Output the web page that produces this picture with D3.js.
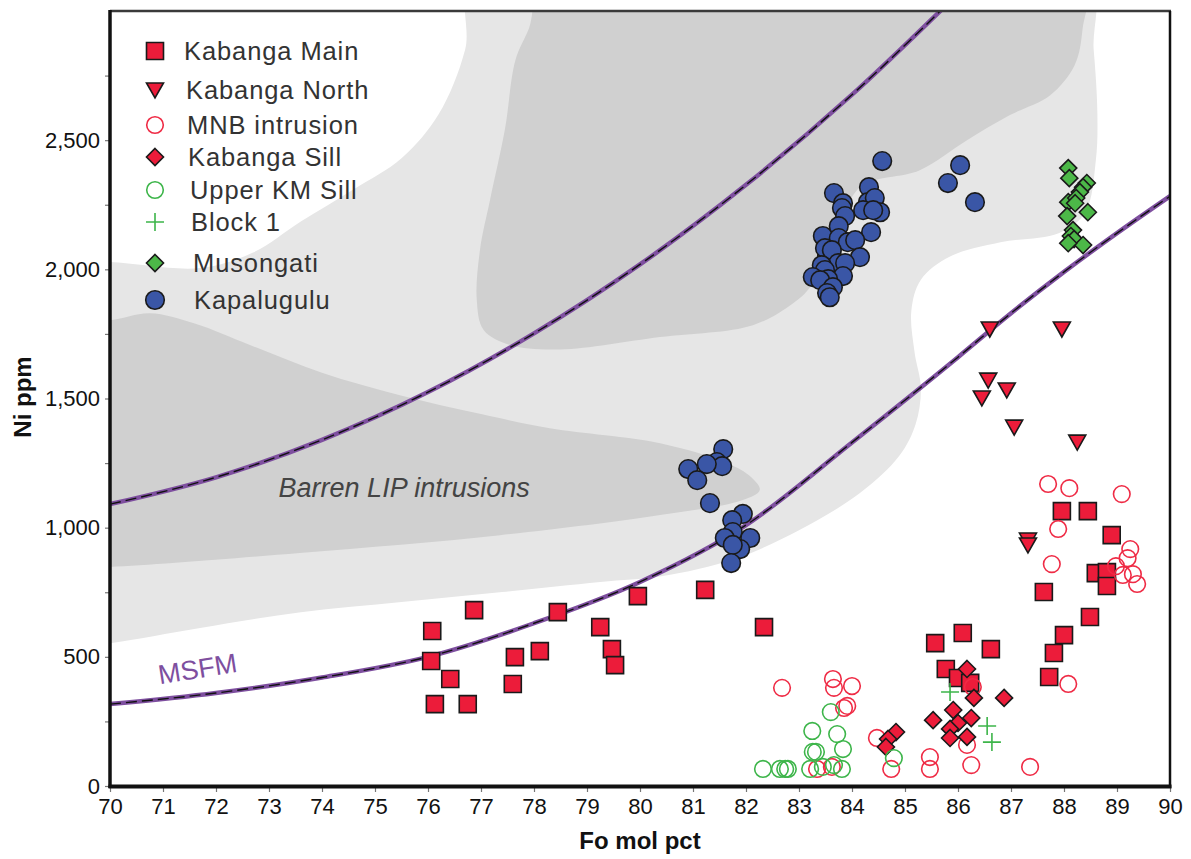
<!DOCTYPE html>
<html>
<head>
<meta charset="utf-8">
<script src="https://cdn.jsdelivr.net/npm/d3@7"></script>
<style>
  html, body { margin: 0; padding: 0; background: #ffffff; }
  svg { display: block; font-family: "Liberation Sans", Arial, Helvetica, sans-serif; }
</style>
</head>
<body>
<svg id="chart" width="1191" height="859"></svg>
<script>
// ---- Axis settings -------------------------------------------------------
const xTickValues = [70,71,72,73,74,75,76,77,78,79,80,81,82,83,84,85,86,87,88,89,90];
const yTickValues = [0,250,500,750,1000,1250,1500,1750,2000,2250,2500,2750];
const yTickLabels = ["0","","500","","1,000","","1,500","","2,000","","2,500",""];

// ---- Sample series: [Fo mol pct, Ni ppm] ---------------------------------
const kabangaMain = [
  [76.08,600],[76.06,484],[76.13,317],[76.42,414],[76.87,681],[76.75,317],[77.64,499],[77.60,395],
  [78.11,522],[78.45,673],[79.25,615],[79.47,530],[79.53,468],[79.96,735],[81.23,759],[82.34,615],
  [85.57,553],[86.09,592],[85.77,453],[86.00,418],[86.23,399],[86.62,530],
  [87.96,1064],[88.45,1064],[88.90,971],[88.60,824],[88.81,828],[88.81,774],[87.62,751],[88.49,654],
  [88.00,584],[87.81,515],[87.72,422]
];
const kabangaNorth = [
  [86.60,1769],[87.96,1769],[86.57,1571],[86.92,1533],[86.45,1502],[87.06,1389],[88.25,1331],
  [87.32,952],[87.32,933]
];
const mnbIntrusion = [
  [87.70,1169],[88.10,1153],[89.09,1130],[87.89,995],[87.77,859],[89.25,917],[89.20,882],[88.98,851],
  [89.11,817],[89.30,820],[89.38,782],[88.08,395],
  [82.68,380],[83.64,414],[83.66,380],[84.00,387],[83.91,310],[83.85,302],[84.47,186],[84.74,66],
  [85.47,112],[85.47,66],[86.17,159],[86.25,81],[87.36,74],[86.28,383],[83.34,66],[83.62,74]
];
const kabangaSill = [
  [86.17,453],[86.30,341],[86.87,341],[85.91,294],[86.25,263],[85.53,255],[86.00,244],[85.85,221],
  [86.17,190],[85.85,186],[84.83,209],[84.68,182],[84.64,151]
];
const upperKMSill = [
  [82.32,66],[82.64,66],[82.74,66],[82.79,66],[83.21,66],[83.45,74],[83.25,213],[83.26,132],
  [83.32,132],[83.60,286],[83.72,201],[83.83,143],[83.66,81],[83.81,66],[84.79,108]
];
const block1 = [[85.85,364],[86.55,232],[86.64,170]];
const musongati = [
  [88.08,2392],[88.10,2353],[88.43,2334],[88.36,2318],[88.30,2299],[88.08,2260],[88.23,2276],
  [88.21,2256],[88.45,2221],[88.06,2206],[88.17,2152],[88.13,2129],[88.19,2117],[88.36,2094],[88.08,2101]
];
const kapalugulu = [
  [84.57,2419],[83.66,2295],[84.32,2318],[83.83,2256],[83.81,2237],[83.87,2206],[84.30,2260],[84.43,2276],
  [84.21,2229],[84.53,2221],[84.40,2229],[83.75,2167],[84.36,2144],[83.45,2129],[83.75,2121],[83.92,2105],
  [84.06,2113],[84.15,2047],[83.53,2055],[83.49,2082],[83.62,2074],[83.74,2024],[83.87,2024],[83.43,2016],
  [83.49,1997],[83.26,1970],[83.83,1974],[83.55,1962],[83.40,1958],[83.64,1931],[83.53,1908],[83.58,1892],
  [81.57,1304],[81.45,1254],[81.55,1238],[81.26,1246],[80.91,1227],[81.08,1184],[81.32,1095],[81.94,1053],
  [81.74,1029],[81.75,983],[81.60,960],[82.08,960],[81.89,917],[81.75,933],[81.72,863],
  [86.04,2403],[85.81,2334],[86.32,2260]
];

// ---- MSFM model curves ---------------------------------------------------
const msfmLower = [
  [70,317],[72,360],[74,420],[76,500],[78,630],[80,790],[82,1010],[84,1330],[86,1660],[87,1830],
  [88,1990],[89,2140],[90,2283]
];
const msfmUpper = [
  [70,1091],[72,1195],[74,1340],[76,1525],[78,1752],[80,2019],[82,2327],[84,2676],[86,3067]
];

// ---- Shaded fields -------------------------------------------------------
const outerField = [
  [69,2030],[70,2028],[71.7,2005],[72.7,2065],[73.6,2185],[74.6,2310],[75.5,2430],[76.2,2600],[76.7,2850],[76.9,3150],
  [88.4,3150],[88.56,2850],[88.63,2600],[88.6,2420],[88.4,2220],[87.9,2140],[86.8,2105],[85.85,2050],
  [85.3,1960],[85.12,1840],[85.18,1680],[85.3,1540],[85.2,1400],[84.9,1280],[84.15,1134],[83.0,990],
  [81.8,880],[80.4,812],[79.25,790],[77.4,751],[75.5,712],[73.6,673],[71.7,612],[70,553],[69,530]
];
const upperField = [
  [78.3,3150],[77.9,2930],[77.65,2810],[77.45,2540],[77.17,2268],[76.98,2074],[76.92,1881],[77.05,1765],
  [77.55,1707],[78.5,1690],[80.38,1738],[82.13,1784],[82.89,1869],[83.21,1931],[83.68,2113],[84.15,2318],
  [85.28,2384],[86.17,2500],[86.98,2597],[87.74,2674],[88.2,2790],[88.35,2930],[88.35,3150]
];
const barrenField = [
  [69,1800],[70,1803],[70.75,1830],[71.6,1790],[72.64,1707],[74,1600],[75.47,1513],[77,1440],[78.3,1385],
  [80.38,1327],[81.64,1250],[82.1,1195],[82.26,1146],[81.94,1107],[80.38,1049],[77.36,971],[73.58,902],
  [70,848],[69,845]
];

(function drawChart() {
  // ---- Layout ------------------------------------------------------------
  const pLeft = 110, pRight = 1170, pTop = 11, pBottom = 786;
  const svg = d3.select("#chart");
  const x = d3.scaleLinear().domain([70, 90]).range([pLeft, pRight]);
  const y = d3.scaleLinear().domain([0, 3000]).range([pBottom, pTop]);

  svg.append("defs").append("clipPath").attr("id", "plotClip")
    .append("rect").attr("x", pLeft).attr("y", pTop).attr("width", pRight - pLeft).attr("height", pBottom - pTop);

  const plot = svg.append("g").attr("clip-path", "url(#plotClip)");

  const areaLine = d3.line().x(d => x(d[0])).y(d => y(d[1])).curve(d3.curveCatmullRomClosed.alpha(0.5));
  plot.append("path").attr("d", areaLine(outerField)).attr("fill", "#e6e6e6");
  plot.append("path").attr("d", areaLine(upperField)).attr("fill", "#d0d0d0");
  plot.append("path").attr("d", areaLine(barrenField)).attr("fill", "#d0d0d0");

  plot.append("text")
    .attr("x", x(75.55)).attr("y", y(1120))
    .attr("text-anchor", "middle")
    .attr("font-size", 27).attr("font-style", "italic").attr("fill", "#444")
    .text("Barren LIP intrusions");

  // model curves: purple band with black dashes on top
  const curveLine = d3.line().x(d => x(d[0])).y(d => y(d[1])).curve(d3.curveMonotoneX);
  [msfmLower, msfmUpper].forEach(c => {
    plot.append("path").attr("d", curveLine(c)).attr("fill", "none")
      .attr("stroke", "#7e4f9f").attr("stroke-width", 4.5);
    plot.append("path").attr("d", curveLine(c)).attr("fill", "none")
      .attr("stroke", "#111").attr("stroke-width", 1.4).attr("stroke-dasharray", "11 5");
  });

  plot.append("text")
    .attr("transform", `translate(${x(71.68)},${y(418)}) rotate(-9)`)
    .attr("text-anchor", "middle")
    .attr("font-size", 27).attr("fill", "#7e4f9f")
    .text("MSFM");

  // ---- Marker shapes -----------------------------------------------------
  const RED = "#ec1c3a", GREEN = "#3db54a", GREEN_FILL = "#4cb848", BLUE = "#3a56a6";
  const shapes = {
    square: "M-8.5,-8.5H8.5V8.5H-8.5Z",
    triDown: "M-8.5,-7H8.5L0,8Z",
    circle: "M8.3,0A8.3,8.3 0 1,1 -8.3,0A8.3,8.3 0 1,1 8.3,0Z",
    bigCircle: "M9.3,0A9.3,9.3 0 1,1 -9.3,0A9.3,9.3 0 1,1 9.3,0Z",
    diamond: "M0,-8.5L8.5,0L0,8.5L-8.5,0Z",
    plus: "M-9,0H9M0,-9V9"
  };
  const series = [
    {name: "Kabanga Main", data: kabangaMain, shape: "square", fill: RED, stroke: "#1a1a1a"},
    {name: "Kabanga North", data: kabangaNorth, shape: "triDown", fill: RED, stroke: "#1a1a1a"},
    {name: "MNB intrusion", data: mnbIntrusion, shape: "circle", fill: "none", stroke: "#ef2b45"},
    {name: "Kabanga Sill", data: kabangaSill, shape: "diamond", fill: RED, stroke: "#1a1a1a"},
    {name: "Upper KM Sill", data: upperKMSill, shape: "circle", fill: "none", stroke: GREEN},
    {name: "Block 1", data: block1, shape: "plus", fill: "none", stroke: GREEN},
    {name: "Musongati", data: musongati, shape: "diamond", fill: GREEN_FILL, stroke: "#1a1a1a"},
    {name: "Kapalugulu", data: kapalugulu, shape: "bigCircle", fill: BLUE, stroke: "#1a1a1a"}
  ];

  const marks = svg.append("g");
  series.forEach(s => {
    marks.append("g").selectAll("path").data(s.data).join("path")
      .attr("transform", d => `translate(${x(d[0])},${y(d[1])})`)
      .attr("d", shapes[s.shape])
      .attr("fill", s.fill).attr("stroke", s.stroke).attr("stroke-width", 1.6);
  });

  // ---- Legend ------------------------------------------------------------
  const legendRows = [51, 90, 125, 157, 190, 222, 263, 300];
  const legendTextX = [184, 186, 187, 188, 190, 191, 193, 194];
  const legend = svg.append("g");
  series.forEach((s, i) => {
    legend.append("path")
      .attr("transform", `translate(155,${legendRows[i]})`)
      .attr("d", shapes[s.shape])
      .attr("fill", s.fill).attr("stroke", s.stroke).attr("stroke-width", 1.6);
    legend.append("text")
      .attr("x", legendTextX[i]).attr("y", legendRows[i] + 9)
      .attr("font-size", 25.5).attr("letter-spacing", 0.9).attr("fill", "#333")
      .text(s.name);
  });

  // ---- Axes --------------------------------------------------------------
  const xAxis = svg.append("g").attr("transform", `translate(0,${pBottom})`)
    .call(d3.axisBottom(x).tickValues(xTickValues).tickFormat(d3.format("d")).tickSize(6).tickPadding(6));
  const yAxis = svg.append("g").attr("transform", `translate(${pLeft},0)`)
    .call(d3.axisLeft(y).tickValues(yTickValues).tickFormat((d, i) => yTickLabels[i]).tickSize(5).tickPadding(5));
  [xAxis, yAxis].forEach(a => {
    a.select(".domain").remove();
    a.selectAll(".tick line").attr("stroke", "#777").attr("stroke-width", 1.2);
    a.selectAll(".tick text").attr("font-size", 22).attr("fill", "#111")
      .attr("font-family", "'Liberation Sans', Arial, sans-serif");
  });

  // plot frame
  const frame = svg.append("g");
  frame.append("line").attr("x1", pLeft).attr("x2", pRight + 1).attr("y1", pTop).attr("y2", pTop)
    .attr("stroke", "#3a3a3a").attr("stroke-width", 2.5);
  frame.append("line").attr("x1", pRight).attr("x2", pRight).attr("y1", pTop).attr("y2", pBottom + 2)
    .attr("stroke", "#111").attr("stroke-width", 2.5);
  frame.append("line").attr("x1", pLeft).attr("x2", pLeft).attr("y1", pTop - 1).attr("y2", pBottom + 2)
    .attr("stroke", "#111").attr("stroke-width", 3.5);
  frame.append("line").attr("x1", pLeft - 1.5).attr("x2", pRight + 1.5).attr("y1", pBottom + 0.5).attr("y2", pBottom + 0.5)
    .attr("stroke", "#111").attr("stroke-width", 4);

  // axis titles
  svg.append("text").attr("x", 640).attr("y", 849).attr("text-anchor", "middle")
    .attr("font-size", 24).attr("font-weight", "bold").attr("fill", "#111").text("Fo mol pct");
  svg.append("text").attr("transform", "translate(31,397) rotate(-90)").attr("text-anchor", "middle")
    .attr("font-size", 24).attr("font-weight", "bold").attr("fill", "#111").text("Ni ppm");
})();
</script>
</body>
</html>
